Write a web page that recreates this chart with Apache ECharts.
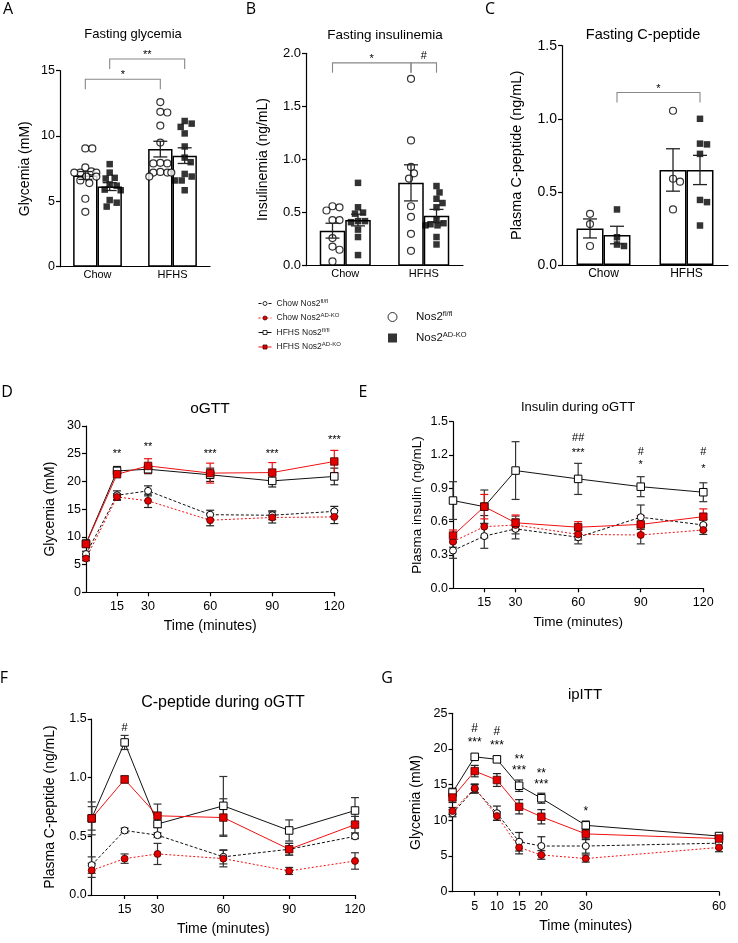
<!DOCTYPE html>
<html><head><meta charset="utf-8">
<script src="https://cdn.jsdelivr.net/npm/echarts@6/dist/echarts.min.js"></script>
<style>html,body{margin:0;padding:0;background:#fff}#c{width:738px;height:943px}</style>
</head><body><div id="c"></div>
<script>
// ---------------- DATA ----------------
const groupCats = ['Chow', 'HFHS'];
// A: fasting glycemia (mM) individual values
const glyChowFl = [9.05, 9.05, 7.6, 7.3, 7.2, 7.2, 7.2, 6.9, 6.9, 6.6, 6.4, 5.2, 4.2];
const glyChowKo = [7.85, 7.2, 6.8, 6.75, 6.3, 6.2, 5.9, 5.85, 5.1, 4.9, 4.6];
const glyHfhsFl = [12.6, 11.85, 11.8, 10.8, 9.5, 7.95, 7.9, 7.9, 7.25, 7.2, 7.2, 7.2, 6.9];
const glyHfhsKo = [11.15, 10.95, 10.7, 10.2, 9.2, 8.35, 8.0, 7.1, 6.9, 6.6, 6.6, 5.85];
const glyMean = [6.98, 6.13, 9.0, 8.5];
const glySem = [0.3, 0.3, 0.6, 0.6];
// B: fasting insulinemia (ng/mL)
const insChowFl = [0.56, 0.55, 0.52, 0.43, 0.43, 0.26, 0.18, 0.15, 0.04];
const insChowKo = [0.78, 0.55, 0.5, 0.49, 0.42, 0.42, 0.41, 0.34, 0.27, 0.1];
const insHfhsFl = [1.76, 1.18, 0.93, 0.87, 0.82, 0.56, 0.46, 0.30, 0.14];
const insHfhsKo = [0.75, 0.69, 0.63, 0.59, 0.55, 0.43, 0.39, 0.38, 0.38, 0.40, 0.27, 0.20];
const insMean = [0.33, 0.43, 0.78, 0.47];
const insSem = [0.07, 0.055, 0.17, 0.06];
// C: fasting C-peptide (ng/mL)
const cpChowFl = [0.35, 0.28, 0.13];
const cpChowKo = [0.38, 0.19, 0.13, 0.14];
const cpHfhsFl = [1.055, 0.59, 0.57, 0.38];
const cpHfhsKo = [1.0, 0.825, 0.83, 0.76, 0.445, 0.43, 0.27];
const cpMean = [0.25, 0.205, 0.65, 0.65];
const cpSem = [0.065, 0.06, 0.145, 0.1];
// significance brackets: [fromBar, toBar, level, label]
const bracketsA = [[0, 2, 14.35, '*'], [1, 3, 15.9, '**']];
const bracketsB = [[0, 2, 1.91, '*'], [2, 3, 1.91, '#']];
const bracketsC = [[1, 3, 1.18, '*']];

// time courses
const timeOGTT = [0, 15, 30, 60, 90, 120];
const timeITT = [0, 5, 10, 15, 20, 30, 60];
const oTicks = [15, 30, 60, 90, 120];
const iTicks = [5, 10, 15, 20, 30, 60];
// D: oGTT glycemia (mM)
const dChowFl = [6.9, 17.5, 18.3, 14.0, 13.9, 14.6],   dChowFlSem = [0.5, 0.8, 0.9, 0.8, 0.8, 0.9];
const dChowKo = [6.1, 17.2, 16.5, 13.0, 13.5, 13.6],   dChowKoSem = [0.4, 0.6, 1.2, 1.0, 1.0, 1.2];
const dHfhsFl = [8.8, 21.9, 22.2, 21.2, 20.1, 20.9],   dHfhsFlSem = [0.5, 0.8, 0.8, 1.2, 1.1, 1.5];
const dHfhsKo = [8.7, 21.3, 22.8, 21.5, 21.6, 23.6],   dHfhsKoSem = [0.5, 0.5, 1.3, 1.8, 1.8, 2.0];
const dSig = [[15, 25.5, '**'], [30, 26.8, '**'], [60, 25.5, '***'], [90, 25.5, '***'], [120, 28.0, '***']];
// E: insulin during oGTT (ng/mL)
const eChowFl = [0.34, 0.47, 0.535, 0.46, 0.64, 0.57],     eChowFlSem = [0.07, 0.11, 0.09, 0.06, 0.11, 0.05];
const eChowKo = [0.42, 0.555, 0.57, 0.485, 0.48, 0.525],   eChowKoSem = [0.05, 0.1, 0.08, 0.05, 0.08, 0.04];
const eHfhsFl = [0.79, 0.735, 1.06, 0.985, 0.915, 0.865],  eHfhsFlSem = [0.17, 0.15, 0.26, 0.14, 0.09, 0.085];
const eHfhsKo = [0.475, 0.735, 0.59, 0.55, 0.575, 0.645],  eHfhsKoSem = [0.05, 0.11, 0.07, 0.05, 0.08, 0.07];
const eSig = [[60, 1.353, '##'], [60, 1.245, '***'], [90, 1.227, '#'], [90, 1.137, '*'], [120, 1.227, '#'], [120, 1.10, '*']];
// F: C-peptide during oGTT (ng/mL)
const fChowFl = [0.255, 0.55, 0.51, 0.325, 0.39, 0.50],   fChowFlSem = [0.07, 0.02, 0.02, 0.06, 0.05, 0.02];
const fChowKo = [0.21, 0.31, 0.35, 0.31, 0.205, 0.29],    fChowKoSem = [0.06, 0.04, 0.09, 0.07, 0.03, 0.07];
const fHfhsFl = [0.653, 1.30, 0.605, 0.76, 0.55, 0.72],   fHfhsFlSem = [0.14, 0.06, 0.1, 0.25, 0.09, 0.11];
const fHfhsKo = [0.653, 0.985, 0.675, 0.66, 0.39, 0.60],  fHfhsKoSem = [0.1, 0.03, 0.1, 0.16, 0.05, 0.07];
const fSig = [[15, 1.42, '#']];
// G: ipITT glycemia (mM)
const gChowFl = [11.0, 14.4, 11.0, 7.0, 6.4, 6.4, 6.8],       gChowFlSem = [0.5, 0.6, 1.0, 1.3, 1.3, 1.0, 0.7];
const gChowKo = [11.3, 14.5, 10.6, 6.2, 5.15, 4.65, 6.2],     gChowKoSem = [0.5, 0.6, 0.6, 0.9, 0.6, 0.5, 0.6];
const gHfhsFl = [13.9, 18.9, 18.55, 14.85, 13.1, 9.3, 7.8],   gHfhsFlSem = [0.6, 0.4, 0.4, 0.8, 0.7, 0.6, 0.3];
const gHfhsKo = [13.2, 16.9, 15.65, 11.9, 10.5, 8.1, 7.45],   gHfhsKoSem = [0.7, 0.8, 0.9, 1.0, 1.0, 0.8, 0.5];
const gSig = [[5, 22.8, '#'], [5, 21.3, '***'], [10, 22.4, '#'], [10, 20.85, '***'], [15, 18.9, '**'], [15, 17.4, '***'], [20, 16.95, '**'], [20, 15.4, '***'], [30, 11.7, '*']];

// names
const N_CF = 'Chow Nos2fl/fl', N_CK = 'Chow Nos2AD-KO', N_HF = 'HFHS Nos2fl/fl', N_HK = 'HFHS Nos2AD-KO';
const N_F = 'Nos2fl/fl', N_K = 'Nos2AD-KO';

// ---------------- LAYOUT / STYLE ----------------
const FONT = '"Liberation Sans", Arial, sans-serif';
const LETTER_FONT = '"Open Sans", "Noto Sans", sans-serif';
const RED = '#f01010', RED_FILL = '#e50000', RED_EDGE = '#4a0000';
const GEO = {
  A: {left: 60, top: 70.7, width: 150, height: 196},
  B: {left: 306, top: 53.3, width: 157, height: 212.4},
  C: {left: 562, top: 45.7, width: 166, height: 219.3},
  D: {left: 86, top: 426, width: 248.3, height: 166.3},
  E: {left: 453, top: 421.7, width: 250.3, height: 166.6},
  F: {left: 91.7, top: 719, width: 263.3, height: 176},
  G: {left: 452.5, top: 713.3, width: 266.5, height: 178.4}
};
const BAR_FRAC = 0.325;            // bar width as fraction of a category band
const OFF = BAR_FRAC / 2;          // bar-center offset from category center (value units)

const grids = [], xAxes = [], yAxes = [], series = [], graphics = [];

function setAlign(style) {
  style.align = style.textAlign = 'center';
  style.verticalAlign = style.textVerticalAlign = 'middle';
  return style;
}
function addText(t, x, y, size, family, weight) {
  graphics.push({type: 'text', x: x, y: y, silent: true,
    style: setAlign({text: t, font: (weight || 'normal') + ' ' + size + 'px ' + (family || FONT), fill: '#000'})});
}
const axLine = {color: '#000', width: 1.2};

function yAxisCfg(gi, min, max, interval, fs, name, nameFs, nameGap, dec) {
  return {gridIndex: gi, type: 'value', min: min, max: max, interval: interval,
    name: name, nameLocation: 'middle', nameRotate: 90, nameGap: nameGap,
    nameTextStyle: {fontSize: nameFs, fontFamily: FONT, color: '#000'},
    axisLine: {show: true, onZero: false, lineStyle: axLine},
    axisTick: {show: true, length: 4, lineStyle: axLine},
    axisLabel: {fontSize: fs, fontFamily: FONT, color: '#000', margin: 5,
      formatter: function (v) { return dec ? v.toFixed(dec) : String(v); }},
    splitLine: {show: false}};
}

function errRender(capW, colorFn, lw) {
  return function (params, api) {
    const x = api.value(0), m = api.value(1), s = api.value(2);
    const t = api.coord([x, m + s]), b = api.coord([x, m - s]);
    const st = {stroke: colorFn(params), lineWidth: lw};
    return {type: 'group', children: [
      {type: 'line', shape: {x1: t[0], y1: t[1], x2: b[0], y2: b[1]}, style: st},
      {type: 'line', shape: {x1: t[0] - capW / 2, y1: t[1], x2: t[0] + capW / 2, y2: t[1]}, style: st},
      {type: 'line', shape: {x1: b[0] - capW / 2, y1: b[1], x2: b[0] + capW / 2, y2: b[1]}, style: st}
    ]};
  };
}

function swarm(vals, cx, pxX, pxY, d, maxHalf) {
  const order = vals.map(function (v, i) { return i; }).sort(function (a, b) { return vals[b] - vals[a]; });
  const placed = [], out = new Array(vals.length);
  order.forEach(function (i) {
    const py = vals[i] * pxY;
    let chosen = null, bestOv = Infinity, bestOff = 0;
    for (let k = 0; k <= 2 * maxHalf; k++) {
      const off = (k % 2 ? 1 : -1) * Math.ceil(k / 2);
      let ov = 0;
      placed.forEach(function (p) {
        const dd = Math.hypot(p[0] - off, p[1] - py);
        if (dd < d) ov += d - dd;
      });
      if (ov === 0) { chosen = off; break; }
      if (ov < bestOv) { bestOv = ov; bestOff = off; }
    }
    if (chosen === null) chosen = bestOff;
    placed.push([chosen, py]);
    out[i] = [cx + chosen / pxX, vals[i]];
  });
  return out;
}

function barPanel(key, gi, yMax, yInt, dec, groups, means, sems, brackets, f) {
  const g = GEO[key];
  grids.push({left: g.left, top: g.top, width: g.width, height: g.height, outerBoundsMode: 'none'});
  const xc = xAxes.length;
  xAxes.push({gridIndex: gi, type: 'category', data: groupCats,
    axisLine: {show: true, onZero: false, lineStyle: axLine}, axisTick: {show: false},
    axisLabel: {fontSize: f.cat, fontFamily: FONT, color: '#000', margin: 3}});
  const xv = xAxes.length;
  xAxes.push({gridIndex: gi, type: 'value', min: 0, max: 2, show: false});
  const yi = yAxes.length;
  yAxes.push(yAxisCfg(gi, 0, yMax, yInt, f.tick, f.name, f.nameFs, f.nameGap, dec));
  const centers = [0.5 - OFF, 0.5 + OFF, 1.5 - OFF, 1.5 + OFF];
  series.push({type: 'bar', name: 'barFl', xAxisIndex: xc, yAxisIndex: yi, data: [means[0], means[2]],
    barWidth: (BAR_FRAC * 100) + '%', barGap: '0%', silent: true,
    itemStyle: {color: '#fff', borderColor: '#000', borderWidth: 1.5}});
  series.push({type: 'bar', name: 'barKo', xAxisIndex: xc, yAxisIndex: yi, data: [means[1], means[3]],
    barWidth: (BAR_FRAC * 100) + '%', barGap: '0%', silent: true,
    itemStyle: {color: '#fff', borderColor: '#000', borderWidth: 1.5}});
  const pxX = g.width / 2, pxY = g.height / yMax;
  groups.forEach(function (vals, i) {
    const isKo = i % 2 === 1;
    series.push({type: 'scatter', name: isKo ? N_K : N_F, xAxisIndex: xv, yAxisIndex: yi,
      symbol: isKo ? 'rect' : 'circle', symbolSize: isKo ? 6.5 : 7, silent: true, z: 3,
      itemStyle: isKo ? {color: '#000'} : {color: '#fff', borderColor: '#000', borderWidth: 1.2},
      data: swarm(vals, centers[i], pxX, pxY, 7, 11)});
  });
  series.push({type: 'custom', xAxisIndex: xv, yAxisIndex: yi, z: 4, silent: true,
    data: means.map(function (m, i) { return [centers[i], m, sems[i]]; }),
    renderItem: errRender(f.cap, function () { return '#222'; }, 1.3)});
  series.push({type: 'custom', xAxisIndex: xv, yAxisIndex: yi, z: 4, silent: true,
    data: brackets.map(function (b) { return [centers[b[0]], b[2]]; }),
    renderItem: function (params, api) {
      const b = brackets[params.dataIndex];
      const p1 = api.coord([centers[b[0]], b[2]]), p2 = api.coord([centers[b[1]], b[2]]);
      const st = {stroke: '#888', lineWidth: 1.1, fill: null};
      return {type: 'group', children: [
        {type: 'polyline', shape: {points: [[p1[0], p1[1] + 10], p1, p2, [p2[0], p2[1] + 10]]}, style: st},
        {type: 'text', x: (p1[0] + p2[0]) / 2, y: p1[1] - (b[3].indexOf('#') >= 0 ? 7 : 4),
          style: setAlign({text: b[3], font: '11px ' + FONT, fill: '#000'})}
      ]};
    }});
}

function linePanel(key, gi, times, ticks, xMax, yMax, yInt, dec, sets, sig, f) {
  const g = GEO[key];
  grids.push({left: g.left, top: g.top, width: g.width, height: g.height, outerBoundsMode: 'none'});
  const xi = xAxes.length;
  xAxes.push({gridIndex: gi, type: 'value', min: 0, max: xMax,
    name: 'Time (minutes)', nameLocation: 'middle', nameGap: f.xNameGap,
    nameTextStyle: {fontSize: f.nameFs, fontFamily: FONT, color: '#000'},
    axisLine: {show: true, onZero: false, lineStyle: axLine},
    axisTick: {show: true, length: 4, customValues: ticks, lineStyle: axLine},
    axisLabel: {fontSize: f.tick, fontFamily: FONT, color: '#000', margin: 8, customValues: ticks},
    splitLine: {show: false}});
  const yi = yAxes.length;
  yAxes.push(yAxisCfg(gi, 0, yMax, yInt, f.tick, f.yName, f.nameFs, f.yNameGap, dec));
  const styles = {};
  styles[N_CF] = {symbol: 'circle', size: 7, item: {color: '#fff', borderColor: '#000', borderWidth: 1}, line: {color: '#111', width: 1, type: [3, 2]}};
  styles[N_CK] = {symbol: 'circle', size: 7, item: {color: RED_FILL, borderColor: RED_EDGE, borderWidth: 0.8}, line: {color: RED, width: 1, type: [2, 2]}};
  styles[N_HF] = {symbol: 'rect', size: 7.5, item: {color: '#fff', borderColor: '#000', borderWidth: 1}, line: {color: '#111', width: 1, type: 'solid'}};
  styles[N_HK] = {symbol: 'rect', size: 7.5, item: {color: RED_FILL, borderColor: RED_EDGE, borderWidth: 0.8}, line: {color: RED, width: 1, type: 'solid'}};
  // error bars first
  sets.forEach(function (s) {
    series.push({type: 'custom', xAxisIndex: xi, yAxisIndex: yi, silent: true, z: 2,
      data: times.map(function (t, i) { return [t, s.data[i], s.sem[i]]; }),
      renderItem: errRender(8, function () { return s.errColor; }, 1.2)});
  });
  sets.forEach(function (s) {
    const st = styles[s.name];
    series.push({type: 'line', name: s.name, xAxisIndex: xi, yAxisIndex: yi, silent: true, z: 3,
      symbol: st.symbol, symbolSize: st.size, showAllSymbol: true, clip: false,
      itemStyle: st.item, lineStyle: st.line,
      data: times.map(function (t, i) { return [t, s.data[i]]; })});
  });
  series.push({type: 'custom', xAxisIndex: xi, yAxisIndex: yi, silent: true, z: 5,
    data: sig.map(function (s) { return [s[0], s[1]]; }),
    renderItem: function (params, api) {
      const s = sig[params.dataIndex];
      const p = api.coord([s[0], s[1]]);
      const ast = s[2].indexOf('*') >= 0;
      return {type: 'text', x: p[0], y: p[1] + (ast ? 3 : 0),
        style: setAlign({text: s[2], font: f.sigFs + 'px ' + FONT, fill: '#000'})};
    }});
}

// ---------------- PANELS ----------------
barPanel('A', 0, 15, 5, 0, [glyChowFl, glyChowKo, glyHfhsFl, glyHfhsKo], glyMean, glySem, bracketsA,
  {cat: 11, tick: 12.5, name: 'Glycemia (mM)', nameFs: 14, nameGap: 28, cap: 14});
barPanel('B', 1, 2, 0.5, 1, [insChowFl, insChowKo, insHfhsFl, insHfhsKo], insMean, insSem, bracketsB,
  {cat: 11, tick: 13, name: 'Insulinemia (ng/mL)', nameFs: 14, nameGap: 36, cap: 14});
barPanel('C', 2, 1.5, 0.5, 1, [cpChowFl, cpChowKo, cpHfhsFl, cpHfhsKo], cpMean, cpSem, bracketsC,
  {cat: 12, tick: 14, name: 'Plasma C-peptide (ng/mL)', nameFs: 14.5, nameGap: 38, cap: 14});

linePanel('D', 3, timeOGTT, oTicks, 120, 30, 5, 0, [
  {name: N_CF, data: dChowFl, sem: dChowFlSem, errColor: '#222'},
  {name: N_CK, data: dChowKo, sem: dChowKoSem, errColor: '#222'},
  {name: N_HF, data: dHfhsFl, sem: dHfhsFlSem, errColor: '#222'},
  {name: N_HK, data: dHfhsKo, sem: dHfhsKoSem, errColor: RED}], dSig,
  {tick: 12.5, nameFs: 14, xNameGap: 27, yName: 'Glycemia (mM)', yNameGap: 29, sigFs: 11});
linePanel('E', 4, timeOGTT, oTicks, 120, 1.5, 0.3, 1, [
  {name: N_CF, data: eChowFl, sem: eChowFlSem, errColor: '#333'},
  {name: N_CK, data: eChowKo, sem: eChowKoSem, errColor: '#333'},
  {name: N_HF, data: eHfhsFl, sem: eHfhsFlSem, errColor: '#333'},
  {name: N_HK, data: eHfhsKo, sem: eHfhsKoSem, errColor: RED}], eSig,
  {tick: 12.5, nameFs: 13.5, xNameGap: 27, yName: 'Plasma insulin (ng/mL)', yNameGap: 29, sigFs: 11});
linePanel('F', 5, timeOGTT, oTicks, 120, 1.5, 0.5, 1, [
  {name: N_CF, data: fChowFl, sem: fChowFlSem, errColor: '#333'},
  {name: N_CK, data: fChowKo, sem: fChowKoSem, errColor: '#333'},
  {name: N_HF, data: fHfhsFl, sem: fHfhsFlSem, errColor: '#333'},
  {name: N_HK, data: fHfhsKo, sem: fHfhsKoSem, errColor: '#333'}], fSig,
  {tick: 12.5, nameFs: 14, xNameGap: 27, yName: 'Plasma C-peptide (ng/mL)', yNameGap: 35, sigFs: 11});
linePanel('G', 6, timeITT, iTicks, 60, 25, 5, 0, [
  {name: N_CF, data: gChowFl, sem: gChowFlSem, errColor: '#222'},
  {name: N_CK, data: gChowKo, sem: gChowKoSem, errColor: '#222'},
  {name: N_HF, data: gHfhsFl, sem: gHfhsFlSem, errColor: '#222'},
  {name: N_HK, data: gHfhsKo, sem: gHfhsKoSem, errColor: '#222'}], gSig,
  {tick: 12.5, nameFs: 14, xNameGap: 27, yName: 'Glycemia (mM)', yNameGap: 29, sigFs: 12});

// titles
addText('Fasting glycemia', 133, 34, 13);
addText('Fasting insulinemia', 385, 35, 13.5);
addText('Fasting C-peptide', 643, 35, 14.5);
addText('oGTT', 210, 409, 15.5);
addText('Insulin during oGTT', 578, 407, 13);
addText('C-peptide during oGTT', 223, 703, 16);
addText('ipITT', 585, 695, 15);
// panel letters
[['A', 8, 9], ['B', 251, 9], ['C', 490, 9], ['D', 7, 392], ['E', 363, 392], ['F', 4, 678], ['G', 387, 678]]
  .forEach(function (l) { addText(l[0], l[1], l[2], 16, LETTER_FONT); });

function supFmt(name) {
  const i = name.indexOf('Nos2') + 4;
  return '{n|' + name.slice(0, i) + '}{s|' + name.slice(i) + '}';
}

const option = {
  animation: false,
  backgroundColor: '#fff',
  grid: grids, xAxis: xAxes, yAxis: yAxes, series: series, graphic: graphics,
  legend: [
    {data: [N_CF, N_CK, N_HF, N_HK], left: 258, top: 298, orient: 'vertical', selectedMode: false, padding: 0,
      itemWidth: 13, itemHeight: 5, itemGap: 4.5, formatter: supFmt,
      itemStyle: {borderWidth: 0.8}, lineStyle: {width: 1},
      textStyle: {color: '#222', fontFamily: FONT, fontSize: 8.5,
        rich: {n: {fontSize: 8.5, lineHeight: 11, fontFamily: FONT, color: '#222'},
               s: {fontSize: 6, lineHeight: 7, verticalAlign: 'top', fontFamily: FONT, color: '#222'}}}},
    {data: [N_F, N_K], left: 387.5, top: 310, orient: 'vertical', selectedMode: false, padding: 0,
      itemWidth: 9, itemHeight: 9, itemGap: 8, formatter: supFmt,
      itemStyle: {borderWidth: 1},
      textStyle: {color: '#111', fontFamily: FONT, fontSize: 11, padding: [0, 0, 0, 14],
        rich: {n: {fontSize: 11.5, lineHeight: 14, fontFamily: FONT, color: '#111'},
               s: {fontSize: 7.5, lineHeight: 9, verticalAlign: 'top', fontFamily: FONT, color: '#111'}}}}
  ]
};
const chart = echarts.init(document.getElementById('c'));
chart.setOption(option);
</script></body></html>
